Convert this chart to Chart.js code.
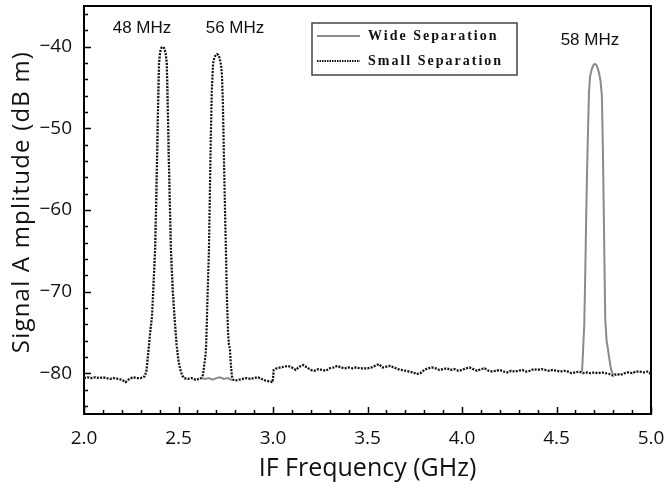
<!DOCTYPE html>
<html><head><meta charset="utf-8">
<script src="https://cdn.jsdelivr.net/npm/chart.js@4.4.0/dist/chart.umd.min.js"></script>
<style>html,body{margin:0;padding:0;background:#fff;}canvas{display:block;}</style>
</head><body>
<canvas id="c" width="667" height="489"></canvas>
<script>
// ---- data (GHz, dBm) ----
const lowFreq = [2.00,2.02,2.04,2.06,2.08,2.10,2.12,2.14,2.16,2.18,2.20,2.22,2.24,2.26,2.28,2.30,2.32,2.33,2.34,2.35,2.36,2.365,2.37,2.376,2.382,2.388,2.393,2.397,2.403,2.41,2.418,2.425,2.432,2.438,2.443,2.448,2.455,2.46,2.47,2.48,2.49,2.50,2.51,2.52,2.53,2.55,2.57,2.59,2.61,2.62];
const lowAmp  = [-80.6,-80.5,-80.6,-80.5,-80.6,-80.5,-80.6,-80.7,-80.6,-80.7,-80.8,-81.1,-80.7,-80.5,-80.6,-80.6,-80.4,-79.8,-77.5,-75.0,-73.0,-70.5,-68.0,-65.0,-59.0,-52.0,-46.0,-42.0,-40.6,-40.1,-40.0,-40.2,-40.8,-42.0,-47.0,-53.0,-60.0,-65.0,-70.0,-73.5,-76.5,-78.5,-79.6,-80.3,-80.6,-80.7,-80.6,-80.8,-80.7,-80.6];

const smallMidFreq = [2.63,2.636,2.642,2.646,2.652,2.657,2.661,2.666,2.671,2.676,2.683,2.69,2.697,2.704,2.711,2.718,2.725,2.73,2.735,2.74,2.746,2.751,2.756,2.762,2.767,2.772,2.777,2.783,2.79];
const smallMidAmp  = [-80.2,-79.0,-78.0,-76.8,-72.0,-68.0,-65.0,-58.0,-51.0,-45.5,-42.0,-41.3,-41.0,-40.9,-41.0,-41.4,-42.2,-43.5,-47.0,-53.0,-60.0,-65.0,-70.5,-75.0,-76.5,-77.0,-79.0,-80.4,-80.8];

const wideMidFreq = [2.64,2.66,2.68,2.70,2.72,2.74,2.76,2.78,2.79];
const wideMidAmp  = [-80.7,-80.6,-80.8,-80.6,-80.5,-80.7,-80.6,-80.8,-80.8];

const highFreq = [2.80,2.82,2.84,2.86,2.88,2.90,2.92,2.94,2.96,2.98,2.998,3.004,3.02,3.04,3.06,3.08,3.10,3.12,3.14,3.16,3.18,3.20,3.22,3.24,3.26,3.28,3.30,3.32,3.34,3.36,3.38,3.40,3.42,3.44,3.46,3.48,3.50,3.52,3.54,3.56,3.58,3.60,3.62,3.64,3.66,3.68,3.70,3.72,3.74,3.76,3.78,3.80,3.82,3.84,3.86,3.88,3.90,3.92,3.94,3.96,3.98,4.00,4.02,4.04,4.06,4.08,4.10,4.12,4.14,4.16,4.18,4.20,4.22,4.24,4.26,4.28,4.30,4.32,4.34,4.36,4.38,4.40,4.42,4.44,4.46,4.48,4.50,4.52,4.54,4.56,4.58,4.60,4.62];
const highAmp  = [-80.9,-80.8,-80.7,-80.6,-80.7,-80.6,-80.5,-80.7,-80.9,-81.0,-81.1,-79.6,-79.4,-79.3,-79.2,-79.1,-79.3,-79.6,-79.2,-79.0,-79.3,-79.6,-79.7,-79.5,-79.6,-79.7,-79.4,-79.3,-79.1,-79.3,-79.4,-79.3,-79.4,-79.3,-79.4,-79.4,-79.4,-79.3,-79.1,-78.9,-79.3,-79.2,-79.1,-79.3,-79.5,-79.6,-79.7,-79.8,-79.9,-80.1,-80.0,-79.6,-79.4,-79.3,-79.4,-79.6,-79.5,-79.4,-79.6,-79.5,-79.7,-79.6,-79.4,-79.3,-79.5,-79.7,-79.5,-79.4,-79.7,-79.8,-79.7,-79.6,-79.8,-79.9,-79.7,-79.8,-79.7,-79.6,-79.8,-79.7,-79.5,-79.6,-79.5,-79.6,-79.7,-79.6,-79.7,-79.8,-79.7,-79.8,-80.0,-79.9,-79.8];

const smallTailFreq = [4.64,4.66,4.68,4.70,4.72,4.74,4.76,4.78,4.80,4.82,4.84,4.86,4.88,4.90,4.92,4.94,4.96,4.98,5.00];
const smallTailAmp  = [-80.0,-79.9,-80.0,-79.9,-80.0,-79.9,-80.0,-80.1,-80.3,-80.1,-80.2,-80.0,-79.9,-80.0,-79.8,-79.8,-79.9,-79.8,-80.1];

const wideTailFreq = [4.635,4.641,4.647,4.652,4.657,4.662,4.667,4.672,4.678,4.686,4.694,4.702,4.710,4.718,4.726,4.733,4.740,4.745,4.750,4.754,4.758,4.765,4.772,4.778,4.786,4.794,4.80,4.82,4.84,4.86,4.88,4.90,4.92,4.94,4.96,4.98,5.00];
const wideTailAmp  = [-79.9,-77.0,-74.0,-68.0,-61.0,-55.0,-50.0,-45.5,-43.6,-42.8,-42.3,-42.1,-42.2,-42.6,-43.3,-44.2,-46.0,-52.0,-60.0,-67.0,-73.5,-76.0,-77.0,-78.0,-79.2,-79.9,-80.2,-80.1,-80.2,-80.0,-79.9,-80.0,-79.8,-79.8,-79.9,-79.8,-80.1];

const seriesNames = ['Wide Separation','Small Separation'];
const peakLabels = ['48 MHz','56 MHz','58 MHz'];
const peakLabelX = [2.307, 2.799, 4.677];
const peakLabelY = [-37.7, -37.7, -39.2];
const xTickValues = [2.0,2.5,3.0,3.5,4.0,4.5,5.0];
const yTickValues = [-80,-70,-60,-50,-40];
const xTitle = 'IF Frequency (GHz)';
const yTitle = 'Signal A mplitude (dB m)';

const toPts = (xs, ys) => xs.map((x, i) => ({x: x, y: ys[i]}));
const widePts  = [...toPts(lowFreq,lowAmp), ...toPts(wideMidFreq,wideMidAmp), ...toPts(highFreq,highAmp), ...toPts(wideTailFreq,wideTailAmp)];
const smallPts = [...toPts(lowFreq,lowAmp), ...toPts(smallMidFreq,smallMidAmp), ...toPts(highFreq,highAmp), ...toPts(smallTailFreq,smallTailAmp)];

const zeroPad = s => { s.paddingLeft = 0; s.paddingRight = 0; s.paddingTop = 0; s.paddingBottom = 0; };

const frame = {
  id: 'frame',
  afterDraw(chart) {
    const {ctx, chartArea: a, scales: {x, y}} = chart;
    ctx.save();
    ctx.strokeStyle = '#000';
    ctx.lineWidth = 2;
    ctx.beginPath();
    ctx.moveTo(a.left, a.top); ctx.lineTo(a.right, a.top); ctx.lineTo(a.right, a.bottom);
    ctx.stroke();
    ctx.lineWidth = 1.5;
    ctx.beginPath();
    for (let i = 20; i <= 50; i++) {
      const px = Math.round(x.getPixelForValue(i / 10)) + 0.5;
      const len = (i % 5 === 0) ? 7 : 4;
      ctx.moveTo(px, a.bottom); ctx.lineTo(px, a.bottom - len);
    }
    for (let v = -84; v <= -36; v += 2) {
      const py = Math.round(y.getPixelForValue(v)) + 0.5;
      const len = (v % 10 === 0) ? 7 : 4;
      ctx.moveTo(a.left, py); ctx.lineTo(a.left + len, py);
    }
    ctx.stroke();
    // y axis title
    ctx.fillStyle = '#111';
    ctx.save();
    ctx.translate(22, (a.top + a.bottom) / 2 - 8);
    ctx.rotate(-Math.PI / 2);
    ctx.font = '24px "Open Sans", sans-serif';
    ctx.letterSpacing = '1.2px';
    ctx.textAlign = 'center'; ctx.textBaseline = 'middle';
    ctx.fillText(yTitle, 0, 0);
    ctx.restore();
    // peak labels
    ctx.font = '17px "Liberation Sans", Arial, sans-serif';
    ctx.textAlign = 'center'; ctx.textBaseline = 'middle';
    peakLabels.forEach((t, i) => ctx.fillText(t, x.getPixelForValue(peakLabelX[i]), y.getPixelForValue(peakLabelY[i])));
    // legend
    const bx = a.left + 228, by = a.top + 17, bw = 205, bh = 52;
    ctx.strokeStyle = '#444'; ctx.lineWidth = 1.5;
    ctx.strokeRect(bx, by, bw, bh);
    ctx.lineWidth = 2;
    ctx.strokeStyle = '#8a8a8a'; ctx.setLineDash([]);
    ctx.beginPath(); ctx.moveTo(bx + 5, by + 13); ctx.lineTo(bx + 48, by + 13); ctx.stroke();
    ctx.strokeStyle = '#111'; ctx.setLineDash([1.5, 1]);
    ctx.beginPath(); ctx.moveTo(bx + 5, by + 38); ctx.lineTo(bx + 48, by + 38); ctx.stroke();
    ctx.setLineDash([]);
    ctx.font = 'bold 14px "Liberation Serif", "Times New Roman", serif';
    ctx.letterSpacing = '2px';
    ctx.textAlign = 'left'; ctx.fillStyle = '#111';
    ctx.fillText(seriesNames[0], bx + 56, by + 13);
    ctx.fillText(seriesNames[1], bx + 56, by + 38);
    ctx.restore();
  }
};

new Chart(document.getElementById('c'), {
  type: 'line',
  data: {
    datasets: [
      {label: seriesNames[1], data: smallPts, order: 0, borderColor: '#111', borderWidth: 2.2, borderDash: [2, 1.3], pointRadius: 0, tension: 0},
      {label: 'underlay', data: smallPts, order: 1, borderColor: '#fff', borderWidth: 2.2, pointRadius: 0, tension: 0},
      {label: seriesNames[0], data: widePts, order: 2, borderColor: '#8a8a8a', borderWidth: 2, pointRadius: 0, tension: 0}
    ]
  },
  options: {
    responsive: false, animation: false, devicePixelRatio: 1,
    layout: {padding: {top: 6, right: 16, left: 0, bottom: 0}},
    plugins: {legend: {display: false}, tooltip: {enabled: false}},
    scales: {
      x: {
        type: 'linear', min: 2, max: 5,
        afterBuildTicks: s => { s.ticks = xTickValues.map(v => ({value: v})); },
        afterFit: s => { s.height = 75; zeroPad(s); },
        grid: {display: false},
        border: {display: true, color: '#000', width: 2},
        ticks: {padding: 5, color: '#111', font: {family: '"Open Sans", sans-serif', size: 19},
                callback: v => v.toFixed(1)},
        title: {display: true, text: xTitle, color: '#111', font: {family: '"Open Sans", sans-serif', size: 25}, padding: {top: 0, bottom: 5}}
      },
      y: {
        min: -85, max: -35,
        afterBuildTicks: s => { s.ticks = yTickValues.map(v => ({value: v})); },
        afterFit: s => { s.width = 84; zeroPad(s); },
        grid: {display: false},
        border: {display: true, color: '#000', width: 2},
        ticks: {padding: 4, color: '#111', font: {family: '"Open Sans", sans-serif', size: 19},
                callback: v => String(v).replace('-', '\u2212')}
      }
    }
  },
  plugins: [frame]
});
</script>
</body></html>
